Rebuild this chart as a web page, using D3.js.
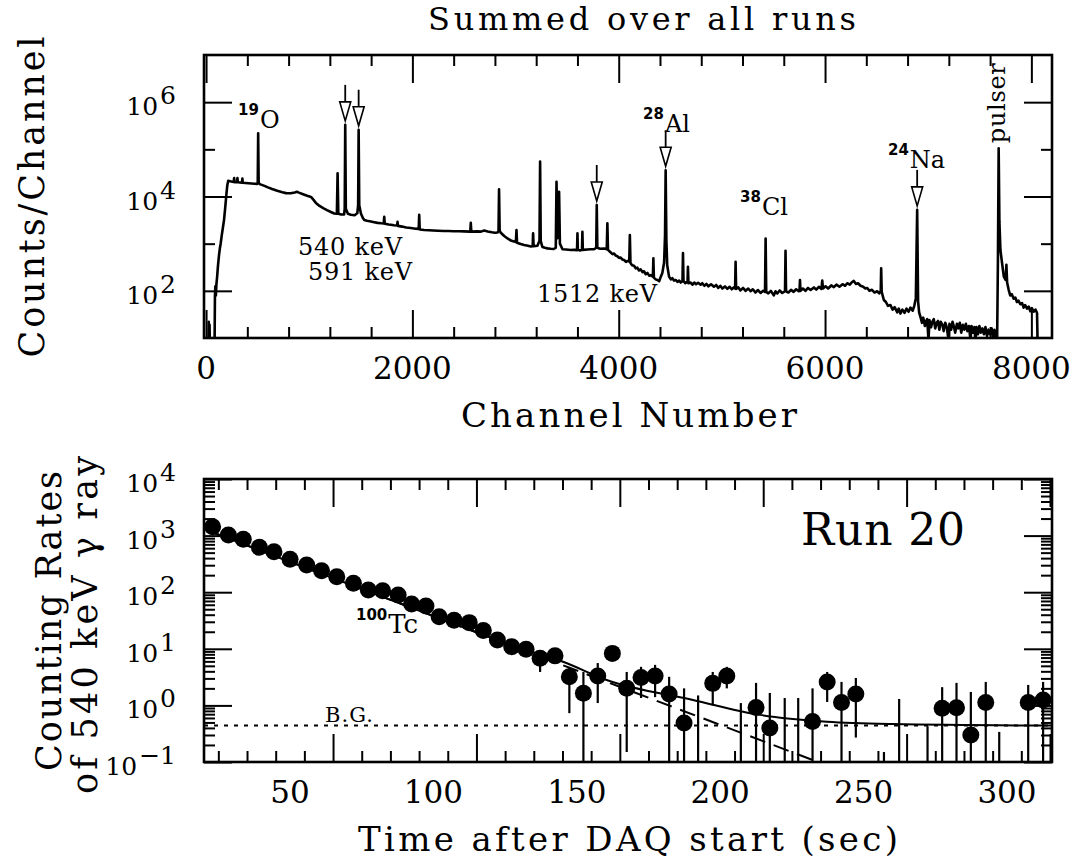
<!DOCTYPE html>
<html>
<head>
<meta charset="utf-8">
<script src="https://cdn.jsdelivr.net/npm/d3@7"></script>
<style>
body { margin: 0; background: #fff; }
text { font-family: "DejaVu Serif", serif; fill: #000; }
.sup { font-family: "DejaVu Sans", sans-serif; font-weight: bold; }
</style>
</head>
<body>
<script>
// ---- top panel: summed gamma spectrum [channel, counts]
var spectrum = [
 [0, 5], [22, 5], [26, 22], [30, 6], [34, 19], [38, 5], [82, 5], [86, 75], [90, 125], [95, 80], [100, 135],
 [107, 196], [115, 330], [125, 560], [134, 800], [142, 1020], [152, 1500], [162, 2100], [174, 3160],
 [185, 5600], [196, 10500], [206, 17400], [215, 21500], [235, 21000], [255, 20600], [268, 20300],
 [272, 24600], [276, 20200], [300, 20100], [304, 24600], [308, 20000], [330, 19800], [348, 19600],
 [352, 24000], [356, 19500], [380, 19300], [410, 19100], [440, 18900], [470, 18700], [495, 18500],
 [501, 19500], [505, 220000], [510, 19500], [520, 18300], [560, 17000], [600, 15600], [640, 14400],
 [690, 13200], [740, 12300], [775, 11800], [820, 11700], [860, 12200], [881, 12600], [900, 12100],
 [940, 11200], [980, 10400], [1017, 9800], [1040, 8600], [1065, 7300], [1100, 6300], [1140, 5600],
 [1172, 5150], [1210, 4700], [1243, 4370], [1268, 4300], [1275, 31000], [1282, 4300], [1310, 4150],
 [1338, 4150], [1344, 5500], [1349, 330000], [1355, 5500], [1375, 4300], [1404, 4100], [1440, 4000],
 [1466, 4400], [1474, 6500], [1479, 260000], [1485, 6500], [1501, 4370], [1520, 3500], [1534, 3160],
 [1560, 3050], [1598, 2950], [1630, 2850], [1663, 2760], [1700, 2700], [1722, 2680], [1727, 3720],
 [1732, 2650], [1770, 2550], [1792, 2510], [1820, 2450], [1852, 2420], [1856, 2900], [1860, 2380],
 [1900, 2300], [1940, 2200], [1985, 2140], [2030, 2080], [2061, 2050], [2066, 4100], [2071, 2000],
 [2115, 1950], [2160, 1920], [2200, 1900], [2250, 1880], [2305, 1860], [2350, 1850], [2400, 1840],
 [2450, 1830], [2500, 1820], [2561, 1800], [2566, 2760], [2571, 1800], [2631, 1820], [2665, 1800],
 [2696, 1900], [2730, 1820], [2770, 1740], [2800, 1700], [2825, 1720], [2835, 1850], [2840, 14200],
 [2846, 1900], [2857, 1700], [2890, 1450], [2922, 1290], [2960, 1150], [3003, 1080], [3009, 1950],
 [3014, 1050], [3050, 980], [3083, 935], [3120, 900], [3148, 870], [3166, 880], [3170, 1660],
 [3175, 880], [3212, 900], [3232, 1150], [3238, 55000], [3244, 1150], [3260, 850], [3285, 820],
 [3309, 795], [3340, 780], [3370, 770], [3390, 820], [3397, 20500], [3406, 1300], [3412, 1500],
 [3422, 12600], [3430, 1000], [3455, 760], [3490, 750], [3535, 735], [3570, 740], [3596, 730],
 [3600, 1660], [3604, 740], [3625, 720], [3644, 740], [3648, 1790], [3652, 740], [3697, 750],
 [3730, 760], [3761, 760], [3782, 820], [3787, 6600], [3793, 820], [3820, 780], [3858, 790],
 [3884, 760], [3890, 2700], [3896, 740], [3923, 650], [3940, 600], [3955, 620], [3970, 560],
 [3987, 540], [4003, 500], [4019, 510], [4036, 460], [4052, 450], [4070, 410], [4085, 430],
 [4102, 420], [4108, 1520], [4114, 390], [4130, 350], [4148, 340], [4165, 300], [4180, 310],
 [4197, 270], [4213, 285], [4230, 250], [4245, 260], [4262, 225], [4278, 240], [4295, 210],
 [4310, 215], [4331, 200], [4336, 490], [4341, 190], [4358, 175], [4375, 170], [4392, 160],
 [4408, 200], [4423, 240], [4440, 400], [4449, 1500], [4455, 36000], [4462, 1200], [4470, 350],
 [4488, 200], [4505, 175], [4520, 185], [4536, 165], [4552, 170], [4570, 155], [4586, 165],
 [4601, 150], [4618, 160], [4623, 630], [4628, 160], [4645, 145], [4660, 155], [4667, 150],
 [4671, 325], [4676, 145], [4697, 150], [4715, 135], [4732, 150], [4750, 138], [4770, 148],
 [4794, 135], [4810, 145], [4830, 128], [4850, 140], [4870, 125], [4895, 138], [4923, 122],
 [4945, 133], [4965, 115], [4985, 128], [5005, 112], [5030, 124], [5053, 110], [5075, 122],
 [5095, 108], [5115, 118], [5128, 112], [5133, 415], [5138, 110], [5160, 118], [5180, 102],
 [5205, 115], [5230, 100], [5255, 112], [5278, 98], [5300, 108], [5325, 92], [5350, 104],
 [5375, 90], [5400, 100], [5418, 95], [5424, 1290], [5430, 95], [5450, 88], [5475, 100],
 [5503, 80], [5520, 98], [5537, 88], [5560, 102], [5585, 90], [5612, 98], [5617, 710], [5622, 98],
 [5645, 92], [5670, 105], [5695, 95], [5720, 108], [5745, 98], [5753, 105], [5757, 170],
 [5762, 100], [5785, 112], [5810, 100], [5835, 115], [5860, 104], [5892, 118], [5915, 106],
 [5940, 122], [5965, 110], [5973, 165], [5980, 112], [6005, 125], [6030, 112], [6060, 130],
 [6085, 120], [6110, 135], [6140, 122], [6170, 138], [6195, 128], [6215, 145], [6240, 135],
 [6260, 152], [6279, 162], [6300, 140], [6320, 145], [6344, 128], [6370, 122], [6390, 112],
 [6409, 115], [6430, 100], [6455, 105], [6480, 92], [6505, 98], [6525, 88], [6540, 100],
 [6544, 300], [6549, 95], [6570, 64], [6590, 58], [6610, 48], [6634, 50], [6655, 40], [6675, 45],
 [6700, 35], [6715, 42], [6731, 33], [6750, 40], [6770, 34], [6790, 42], [6810, 36], [6828, 44],
 [6850, 38], [6865, 48], [6880, 70], [6893, 5200], [6902, 60], [6912, 35], [6925, 28], [6940, 21],
 [6952, 27], [6968, 18], [6980, 23], [6990, 25], [7003, 9], [7012, 24], [7028, 17], [7040, 22],
 [7054, 25], [7068, 16], [7082, 21], [7095, 23], [7108, 15], [7122, 22], [7138, 19], [7150, 14],
 [7165, 21], [7180, 17], [7197, 9], [7206, 20], [7222, 15], [7236, 22], [7250, 17], [7262, 13],
 [7278, 20], [7292, 16], [7306, 21], [7320, 13], [7335, 19], [7350, 15], [7365, 20], [7380, 14],
 [7395, 18], [7410, 9], [7420, 18], [7434, 13], [7447, 17], [7458, 9], [7468, 17], [7482, 12],
 [7496, 18], [7510, 13], [7525, 16], [7540, 12], [7555, 17], [7570, 11], [7585, 15], [7600, 12],
 [7615, 16], [7632, 9], [7642, 15], [7655, 11], [7667, 5],
 [7676, 500], [7683, 105000], [7690, 3000], [7700, 735], [7715, 400], [7733, 200], [7750, 170],
 [7758, 355], [7765, 150], [7780, 105], [7795, 80], [7810, 85], [7829, 68], [7845, 72], [7860, 58],
 [7875, 62], [7893, 52], [7910, 55], [7925, 44], [7940, 50], [7958, 42], [7975, 46], [7990, 37],
 [8005, 43], [8022, 36], [8040, 40], [8055, 34], [8062, 5], [8066, 5]
];

// peaks marked with open arrows [channel, peak counts]
var arrowPeaks = [[1349, 330000], [1479, 260000], [3787, 6600], [4455, 36000], [6893, 5200]];

// ---- bottom panel: 540 keV counting rate vs time (run 20)
var times  = [23.0, 28.5, 33.7, 39.3, 44.4, 50.0, 55.8, 61.0, 66.3, 72.1, 77.3, 82.3, 87.7, 92.4,
              97.4, 102.0, 107.2, 112.5, 117.4, 122.3, 127.3, 132.3, 137.2, 142.4, 147.4, 152.3,
              157.3, 162.4, 167.4, 172.4, 177.3, 182.2, 187.4, 192.3, 197.4, 202.3, 207.2, 212.5,
              217.3, 222.5, 227.2, 232.2, 237.3, 242.3, 247.3, 257.1, 262.4, 272.3, 277.4, 282.4,
              287.4, 292.6, 297.3, 307.4, 312.6];
var rates  = [1436, 1026, 861, 621, 520, 381, 303, 240, 188, 144, 109, 106, 89, 62,
              57, 37, 32, 29, 21, 14.3, 10.9, 9.8, 6.8, 7.5, 3.2, 1.64,
              3.3, 8.3, 2.0, 3.1, 3.3, 1.59, 0.49, 0.05, 2.45, 3.3, 0.05, 0.92,
              0.40, 0.05, 0.05, 0.52, 2.6, 1.12, 1.59, 0.05, 0.05, 0.05, 0.89, 0.91,
              0.30, 1.12, 0.05, 1.12, 1.24];
var errLo  = [null, null, null, null, null, null, null, null, null, null, null, null, null, null,
              null, null, null, null, null, null, null, null, 3.9, null, 0.73, 0.01,
              1.1, null, 0.15, 1.35, 1.4, 0.01, 0.01, 0.01, 1.0, 2.0, 0.01, 0.01,
              0.01, 0.01, 0.01, 0.01, 1.15, 0.01, 0.27, 0.01, 0.01, 0.01, 0.01, 0.01,
              0.01, 0.01, 0.01, 0.01, 0.01];
var errHi  = [null, null, null, null, null, null, null, null, null, null, null, null, null, null,
              null, null, null, null, null, null, null, null, 8.4, null, 4.8, 3.9,
              5.6, null, 3.9, 4.8, 5.2, 3.2, 2.0, 1.5, 3.9, 4.8, 1.1, 2.5,
              1.66, 1.35, 1.35, 2.0, 3.9, 2.6, 3.05, 0.15, 1.3, 0.43, 2.1, 2.5,
              1.73, 2.6, 0.34, 2.3, 2.6];

// fit curves
var fitTimes   = [23, 60, 100, 130, 145.2, 160.4, 190.5, 213.9, 237.2, 260.2, 315.7];
var fitTotal   = [1140, 221, 38, 10.4, 5.9, 2.81, 1.25, 0.68, 0.515, 0.469, 0.44];
var decayTimes = [23, 151.1, 240];
var decayRates = [1140, 3.94, 0.077];
var bgLevel = 0.44;

var topXLabels = [0, 2000, 4000, 6000, 8000];
var topYLabels = [1e2, 1e4, 1e6];
var botXLabels = [50, 100, 150, 200, 250, 300];
var botYLabels = [0.1, 1, 10, 100, 1000, 10000];

// ---- layout
var svg = d3.select("body").append("svg")
    .attr("width", 1082)
    .attr("height", 865)
    .style("background", "#fff");

var frameL = 204, frameR = 1052;
var top1 = 55, bot1 = 338, top2 = 479, bot2 = 762;
var majorLen = 28, minorLen = 11;

// scales
var xTop = d3.scaleLinear().domain([-20, 8200]).range([frameL, frameR]);
var yTop = d3.scaleLog().domain([10, 1e7]).range([bot1, top1]);
var xBot = d3.scaleLinear().domain([20, 315.7]).range([frameL, frameR]);
var yBot = d3.scaleLog().domain([0.1, 1e4]).range([bot2, top2]);

function drawTicks(axisFn, scale, values, len, tx, ty) {
  var g = svg.append("g").attr("transform", "translate(" + tx + "," + ty + ")");
  g.call(axisFn(scale).tickValues(values).tickSize(-len).tickFormat(""));
  g.select(".domain").remove();
  g.selectAll(".tick line").attr("stroke", "#000").attr("stroke-width", 2);
}

function frame(y0, y1) {
  svg.append("rect")
      .attr("x", frameL).attr("y", y0)
      .attr("width", frameR - frameL).attr("height", y1 - y0)
      .attr("fill", "none").attr("stroke", "#000").attr("stroke-width", 2.6);
}

function yLabels(scale, values) {
  values.forEach(function(v) {
    var e = Math.round(Math.log10(v));
    var t = svg.append("text")
        .attr("x", 176).attr("y", scale(v) + 13)
        .attr("text-anchor", "end")
        .style("font-size", "25px");
    t.append("tspan").text("10");
    t.append("tspan").attr("dy", -11).attr("dx", 2).text(e < 0 ? "\u2212" + (-e) : e);
  });
}

function clip(id, y0, y1) {
  svg.append("clipPath").attr("id", id).append("rect")
      .attr("x", frameL).attr("y", y0)
      .attr("width", frameR - frameL).attr("height", y1 - y0);
}

// ================= top panel =================
clip("clipTop", top1, bot1);

var xMinorTop = d3.range(0, 8201, 400).filter(function(d) { return d % 2000 !== 0; });
drawTicks(d3.axisBottom, xTop, topXLabels, majorLen, 0, bot1);
drawTicks(d3.axisBottom, xTop, xMinorTop, minorLen, 0, bot1);
drawTicks(d3.axisTop, xTop, topXLabels, majorLen, 0, top1);
drawTicks(d3.axisTop, xTop, xMinorTop, minorLen, 0, top1);
drawTicks(d3.axisLeft, yTop, topYLabels, majorLen, frameL, 0);
drawTicks(d3.axisLeft, yTop, [1e3, 1e5], minorLen, frameL, 0);
drawTicks(d3.axisRight, yTop, topYLabels, majorLen, frameR, 0);
drawTicks(d3.axisRight, yTop, [1e3, 1e5], minorLen, frameR, 0);

var specLine = d3.line()
    .x(function(d) { return xTop(d[0]); })
    .y(function(d) { return yTop(d[1]); });

svg.append("path")
    .datum(spectrum)
    .attr("clip-path", "url(#clipTop)")
    .attr("d", specLine)
    .attr("fill", "none")
    .attr("stroke", "#000")
    .attr("stroke-width", 2.6)
    .attr("stroke-linejoin", "round");

// open arrows over the peaks
arrowPeaks.forEach(function(p) {
  var cx = xTop(p[0]), tip = yTop(p[1]) - 4;
  svg.append("line")
      .attr("x1", cx).attr("x2", cx)
      .attr("y1", tip - 36).attr("y2", tip - 19)
      .attr("stroke", "#000").attr("stroke-width", 1.8);
  svg.append("path")
      .attr("d", "M" + (cx - 5.5) + "," + (tip - 19) + "L" + (cx + 5.5) + "," + (tip - 19) + "L" + cx + "," + tip + "Z")
      .attr("fill", "#fff").attr("stroke", "#000").attr("stroke-width", 1.6);
});

frame(top1, bot1);

// tick labels
svg.selectAll(".xlabTop")
    .data(topXLabels)
  .enter().append("text")
    .attr("x", function(d) { return xTop(d); })
    .attr("y", 379)
    .attr("text-anchor", "middle")
    .style("font-size", "31px")
    .text(function(d) { return d; });
yLabels(yTop, topYLabels);

// isotope labels
function isoLabel(ch, val, mass, name) {
  var t = svg.append("text")
      .attr("x", xTop(ch)).attr("y", yTop(val));
  t.append("tspan").attr("class", "sup").attr("dy", -13).style("font-size", "15px").text(mass);
  t.append("tspan").attr("dy", 13).attr("dx", 1).style("font-size", "24px").text(name);
}
isoLabel(310, 2.8e5, "19", "O");
isoLabel(4236, 2.3e5, "28", "Al");
isoLabel(5176, 4100, "38", "Cl");
isoLabel(6610, 40000, "24", "Na");

svg.append("text").attr("x", xTop(891)).attr("y", yTop(575))
    .style("font-size", "24px").attr("textLength", 104).text("540 keV");
svg.append("text").attr("x", xTop(988)).attr("y", yTop(170))
    .style("font-size", "24px").attr("textLength", 104).text("591 keV");
svg.append("text").attr("x", xTop(3208)).attr("y", yTop(58))
    .style("font-size", "24px").attr("textLength", 120).text("1512 keV");
svg.append("text")
    .attr("transform", "translate(" + xTop(7745) + "," + yTop(1.35e5) + ") rotate(-90)")
    .style("font-size", "24px").attr("textLength", 80).text("pulser");

// titles
svg.append("text").attr("x", 642).attr("y", 30).attr("text-anchor", "middle")
    .style("font-size", "32px").attr("textLength", 428).text("Summed over all runs");
svg.append("text").attr("x", 629).attr("y", 427).attr("text-anchor", "middle")
    .style("font-size", "34px").attr("textLength", 336).text("Channel Number");
svg.append("text").attr("transform", "translate(44,197) rotate(-90)").attr("text-anchor", "middle")
    .style("font-size", "35px").attr("textLength", 321).text("Counts/Channel");

// ================= bottom panel =================
clip("clipBot", top2, bot2);

var xMajorBot = [65, 115, 165, 215, 265, 315];
var xMinorBot = d3.range(25, 316, 10).filter(function(d) { return xMajorBot.indexOf(d) < 0; });
var yMinorBot = yBot.ticks().filter(function(d) { return botYLabels.indexOf(d) < 0; });

drawTicks(d3.axisBottom, xBot, xMajorBot, majorLen, 0, bot2);
drawTicks(d3.axisBottom, xBot, xMinorBot, minorLen, 0, bot2);
drawTicks(d3.axisTop, xBot, xMajorBot, majorLen, 0, top2);
drawTicks(d3.axisTop, xBot, xMinorBot, minorLen, 0, top2);
drawTicks(d3.axisLeft, yBot, botYLabels, majorLen, frameL, 0);
drawTicks(d3.axisLeft, yBot, yMinorBot, minorLen, frameL, 0);
drawTicks(d3.axisRight, yBot, botYLabels, majorLen, frameR, 0);
drawTicks(d3.axisRight, yBot, yMinorBot, minorLen, frameR, 0);

var plot = svg.append("g").attr("clip-path", "url(#clipBot)");

// background level (dotted)
plot.append("line")
    .attr("x1", xBot(20)).attr("x2", xBot(315.7))
    .attr("y1", yBot(bgLevel)).attr("y2", yBot(bgLevel))
    .attr("stroke", "#000").attr("stroke-width", 2)
    .attr("stroke-dasharray", "4,6");

// decay component (dashed)
var decayLine = d3.line()
    .x(function(d) { return xBot(d[0]); })
    .y(function(d) { return yBot(d[1]); });
plot.append("path")
    .datum(decayTimes.map(function(t, i) { return [t, decayRates[i]]; }))
    .attr("d", decayLine)
    .attr("fill", "none").attr("stroke", "#000").attr("stroke-width", 2)
    .attr("stroke-dasharray", "16,9");

// total fit (solid)
var fitLine = d3.line()
    .curve(d3.curveMonotoneX)
    .x(function(d) { return xBot(d[0]); })
    .y(function(d) { return yBot(d[1]); });
plot.append("path")
    .datum(fitTimes.map(function(t, i) { return [t, fitTotal[i]]; }))
    .attr("d", fitLine)
    .attr("fill", "none").attr("stroke", "#000").attr("stroke-width", 2);

// error bars
var points = times.map(function(t, i) {
  return {t: t, v: rates[i], lo: errLo[i], hi: errHi[i]};
});
plot.selectAll(".err")
    .data(points.filter(function(d) { return d.hi !== null; }))
  .enter().append("line")
    .attr("x1", function(d) { return xBot(d.t); })
    .attr("x2", function(d) { return xBot(d.t); })
    .attr("y1", function(d) { return yBot(d.lo); })
    .attr("y2", function(d) { return yBot(d.hi); })
    .attr("stroke", "#000").attr("stroke-width", 2.2);

// data points
plot.selectAll(".dot")
    .data(points)
  .enter().append("circle")
    .attr("r", 8.5)
    .attr("cx", function(d) { return xBot(d.t); })
    .attr("cy", function(d) { return yBot(d.v); })
    .attr("fill", "#000");

frame(top2, bot2);

svg.selectAll(".xlabBot")
    .data(botXLabels)
  .enter().append("text")
    .attr("x", function(d) { return xBot(d); })
    .attr("y", 803)
    .attr("text-anchor", "middle")
    .style("font-size", "31px")
    .text(function(d) { return d; });
yLabels(yBot, botYLabels);

// annotations
svg.append("text").attr("x", xBot(228.2)).attr("y", yBot(682))
    .style("font-size", "44px").attr("textLength", 164).text("Run 20");
var tc = svg.append("text").attr("x", xBot(73)).attr("y", yBot(19));
tc.append("tspan").attr("class", "sup").attr("dy", -13).style("font-size", "15px").text("100");
tc.append("tspan").attr("dy", 13).attr("dx", 1).style("font-size", "26px").text("Tc");
svg.append("text").attr("x", xBot(62.2)).attr("y", yBot(0.51))
    .style("font-size", "21px").attr("textLength", 48).text("B.G.");

svg.append("text").attr("x", 628).attr("y", 851).attr("text-anchor", "middle")
    .style("font-size", "34px").attr("textLength", 540).text("Time after DAQ start (sec)");
svg.append("text").attr("transform", "translate(61,621) rotate(-90)").attr("text-anchor", "middle")
    .style("font-size", "35px").attr("textLength", 300).text("Counting Rates");
svg.append("text").attr("transform", "translate(97,625) rotate(-90)").attr("text-anchor", "middle")
    .style("font-size", "35px").attr("textLength", 338).text("of 540 keV \u03b3 ray");
</script>
</body>
</html>
